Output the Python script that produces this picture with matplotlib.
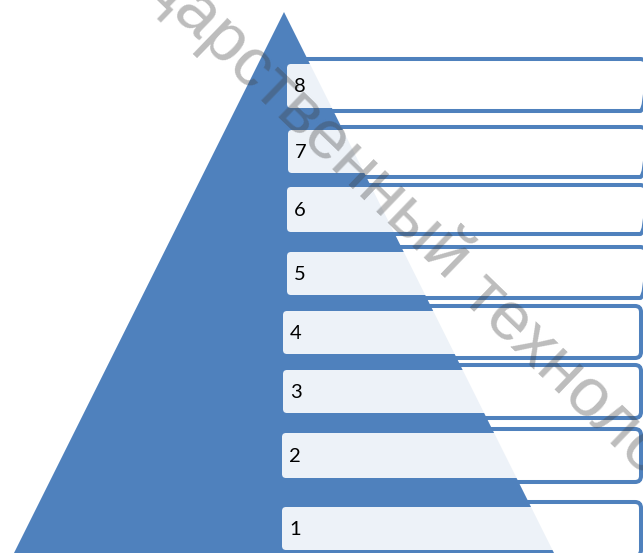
import matplotlib
matplotlib.use("Agg")
import matplotlib.pyplot as plt
from matplotlib.patches import Polygon, FancyBboxPatch

# level labels, bottom to top
levels = ["1", "2", "3", "4", "5", "6", "7", "8"]
watermark_left = "Государственный"
watermark_right = " технологический"

# layout (pixel coords, y from top)
W, H = 643, 553
apex = (284, 12)
base_left = (14, 553)
base_right = (554, 553)

card_left = [282, 282, 283, 283, 287, 287, 288, 287]
card_top = [507, 433, 370, 311, 252, 187, 130, 64]
card_bot = [550, 478, 413, 354, 295, 232, 173, 108]
frame_top = [502, 429, 365, 306, 247, 185, 127, 59]
frame_bot = [556, 482, 418, 358, 298, 234, 177, 111]
frame_right = [641, 641, 641, 641, 646, 646, 646, 646]

blue = "#4F81BD"

fig = plt.figure(figsize=(W / 100, H / 100), dpi=100)
ax = fig.add_axes([0, 0, 1, 1])
ax.set_xlim(0, W)
ax.set_ylim(H, 0)
ax.axis("off")

ax.add_patch(Polygon([apex, base_left, base_right], closed=True,
                     facecolor=blue, edgecolor="none", zorder=1))

for i, lab in enumerate(levels):
    fl = card_left[i] - 10
    ax.add_patch(FancyBboxPatch((fl, frame_top[i]), frame_right[i] - fl,
                                frame_bot[i] - frame_top[i],
                                boxstyle="round,pad=0,rounding_size=6",
                                facecolor="none", edgecolor=blue, lw=2.9,
                                zorder=2))
    ax.add_patch(FancyBboxPatch((card_left[i], card_top[i]), 638 - card_left[i],
                                card_bot[i] - card_top[i],
                                boxstyle="round,pad=0,rounding_size=4",
                                facecolor="white", alpha=0.9, edgecolor="none",
                                zorder=3))
    ax.text(card_left[i] + 7, (card_top[i] + card_bot[i]) / 2 + 1, lab,
            fontsize=14.5, family="Lato", color="black",
            ha="left", va="center", zorder=4)

# watermark, anchored at the gap between the two words
wm = dict(fontsize=50, family="Liberation Sans", color="#404040", alpha=0.35,
          rotation=-44, rotation_mode="anchor", va="baseline", zorder=5)
ax.text(446, 285, watermark_left, ha="right", **wm)
ax.text(446, 285, watermark_right, ha="left", **wm)

fig.savefig("out.png", dpi=100)
